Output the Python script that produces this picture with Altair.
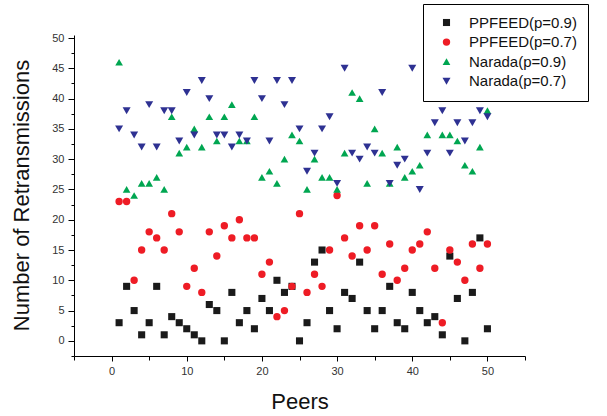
import altair as alt
import pandas as pd

# Retransmission counts per peer for the four protocol / probability settings
peers = list(range(1, 51))

ppfeed_p09 = [3, 9, 5, 1, 3, 9, 1, 4, 3, 2, 1, 0, 6, 5, 0, 8, 3, 5, 2, 7,
              5, 10, 8, 9, 0, 3, 13, 15, 5, 2, 8, 7, 13, 5, 2, 5, 9, 3, 2, 8,
              5, 3, 4, 1, 14, 7, 0, 8, 17, 2]
ppfeed_p07 = [23, 23, 10, 15, 18, 17, 15, 21, 18, 9, 12, 8, 18, 14, 19, 17, 20, 17, 17, 11,
              13, 4, 5, 9, 21, 8, 11, 9, 15, 24, 17, 14, 19, 15, 19, 11, 16, 10, 12, 15,
              16, 18, 12, 3, 15, 13, 10, 16, 12, 16]
narada_p09 = [46, 25, 24, 26, 26, 27, 25, 37, 31, 32, 35, 32, 37, 33, 37, 39, 33, 33, 37, 27,
              28, 26, 30, 34, 33, 25, 30, 27, 27, 25, 31, 41, 40, 26, 35, 31, 26, 32, 27, 28,
              29, 34, 41, 34, 34, 33, 29, 28, 32, 38]
narada_p07 = [35, 38, 34, 32, 39, 32, 38, 38, 33, 41, 34, 43, 40, 34, 34, 32, 34, 33, 43, 40,
              33, 43, 39, 43, 35, 28, 31, 35, 37, 26, 45, 31, 30, 32, 31, 41, 26, 29, 30, 45,
              25, 31, 36, 38, 31, 36, 33, 36, 38, 37]

series_names = ["PPFEED(p=0.9)", "PPFEED(p=0.7)", "Narada(p=0.9)", "Narada(p=0.7)"]
series_values = [ppfeed_p09, ppfeed_p07, narada_p09, narada_p07]
series_colors = ["#1a1a1a", "#ee1c25", "#00a651", "#2e3192"]
series_shapes = ["square", "circle", "triangle-up", "triangle-down"]
series_sizes = [50, 64, 80, 80]

x_major = [0, 10, 20, 30, 40, 50]
x_minor = [-5, 5, 15, 25, 35, 45, 55]
y_major = [0, 5, 10, 15, 20, 25, 30, 35, 40, 45, 50]
y_minor = [-2.5, 2.5, 7.5, 12.5, 17.5, 22.5, 27.5, 32.5, 37.5, 42.5, 47.5]

rows = []
for name, vals in zip(series_names, series_values):
    for p, v in zip(peers, vals):
        rows.append({"peer": p, "value": v, "series": name})
df = pd.DataFrame(rows)

FONT = "Liberation Sans"
x_scale = alt.Scale(domain=[-5, 55], nice=False, zero=False)
y_scale = alt.Scale(domain=[-2.5, 50.5], nice=False, zero=False)

# minor tick marks on both axes
minor = alt.Chart(df).mark_point(opacity=0).encode(
    x=alt.X("peer:Q", scale=x_scale,
            axis=alt.Axis(values=x_minor, labels=False, title=None, domain=False,
                          grid=False, tickSize=4, tickColor="#000", orient="bottom")),
    y=alt.Y("value:Q", scale=y_scale,
            axis=alt.Axis(values=y_minor, labels=False, title=None, domain=False,
                          grid=False, tickSize=3, tickColor="#000", orient="left")),
)

points = alt.Chart(df).mark_point(filled=True, opacity=1).encode(
    x=alt.X("peer:Q", scale=x_scale,
            axis=alt.Axis(values=x_major, title="Peers", grid=False, orient="bottom",
                          tickSize=5, tickColor="#000", domainColor="#000",
                          labelFont=FONT, labelFontSize=11, labelColor="#333",
                          labelPadding=4, titleFont=FONT, titleFontSize=22,
                          titleFontWeight="normal", titleColor="#111",
                          titleY=45, titleBaseline="middle")),
    y=alt.Y("value:Q", scale=y_scale,
            axis=alt.Axis(values=y_major, title="Number of Retransmissions", grid=False,
                          orient="left", tickSize=6, tickColor="#000", domainColor="#000",
                          labelFont=FONT, labelFontSize=11, labelColor="#333",
                          labelPadding=4, titleFont=FONT, titleFontSize=22,
                          titleFontWeight="normal", titleColor="#111",
                          titleX=-53, titleY=160, titleAngle=270,
                          titleAlign="center", titleBaseline="middle")),
    color=alt.Color("series:N",
                    scale=alt.Scale(domain=series_names, range=series_colors),
                    legend=alt.Legend(title=None, orient="none", legendX=349, legendY=-31,
                                      strokeColor="#000", fillColor="#fff", padding=11,
                                      symbolOffset=5, labelOffset=15, rowPadding=3.6,
                                      symbolSize=95, labelFont=FONT, labelFontSize=15,
                                      labelColor="#111", symbolStrokeWidth=0,
                                      labelExpr="datum.label + '            '")),
    shape=alt.Shape("series:N",
                    scale=alt.Scale(domain=series_names, range=series_shapes)),
    size=alt.Size("series:N",
                  scale=alt.Scale(domain=series_names, range=series_sizes),
                  legend=None),
    order=alt.Order("order:Q"),
).transform_calculate(
    order="indexof(" + str(series_names).replace("'", '"') + ", datum.series)"
)

chart = alt.layer(minor, points).resolve_scale(
    x="independent", y="independent"
).properties(
    width=451,
    height=321,
    padding={"left": 74, "top": 35, "right": 82, "bottom": 60},
    autosize=alt.AutoSizeParams(type="none"),
).configure_view(stroke=None)

chart.save("out.html", embed_options={"renderer": "svg", "actions": False})
